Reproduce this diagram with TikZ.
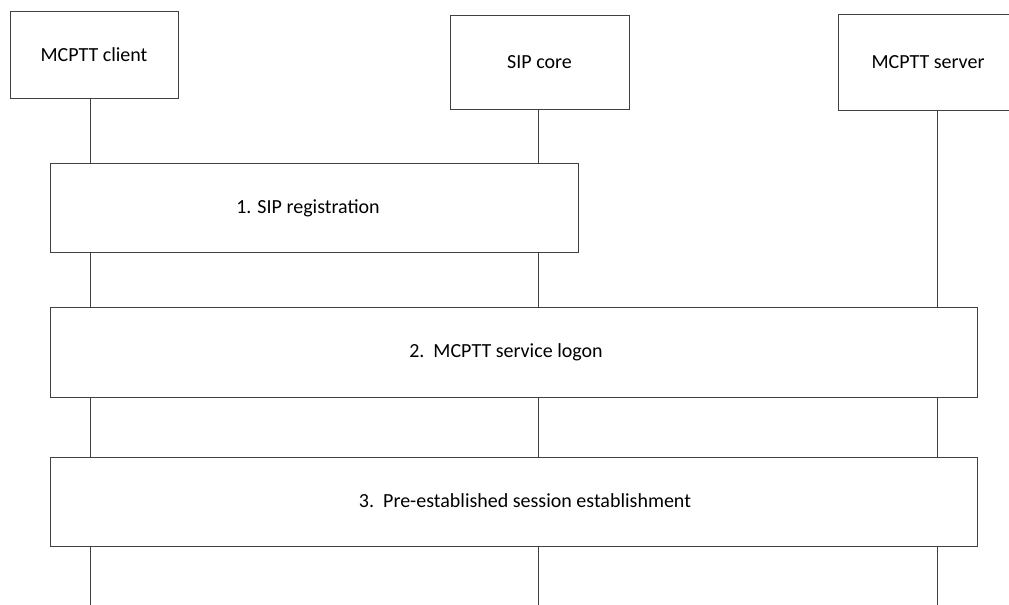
\documentclass[tikz,border=0pt]{standalone}
\usepackage{fontspec}
\setmainfont{Carlito}
\begin{document}
\begin{tikzpicture}[x=0.75pt,y=-0.75pt,
  ln/.style={draw=black!75,line width=0.7pt},
  ent/.style={ln,fill=white,rectangle,inner sep=0pt,font=\fontsize{15}{18}\selectfont},
  stepbox/.style={ln,fill=white,rectangle,inner sep=0pt},
  lbl/.style={inner sep=0pt,font=\fontsize{15}{18}\selectfont}]
\useasboundingbox (0,0) rectangle (1009,605);
% lifeline end points
\coordinate (cl-end) at (90,605);
\coordinate (sc-end) at (538,605);
\coordinate (sv-end) at (937,605);
% entity boxes
\node[ent,minimum width=168*0.75pt,minimum height=87*0.75pt] (client) at (94,54.5) {MCPTT client};
\node[ent,minimum width=179*0.75pt,minimum height=94*0.75pt] (sip) at (539.5,62) {SIP core};
\node[ent,minimum width=180*0.75pt,minimum height=96*0.75pt] (server) at (928,62) {MCPTT server};
% lifelines
\draw[ln] (cl-end |- client.south) -- (cl-end);
\draw[ln] (sc-end |- sip.south) -- (sc-end);
\draw[ln] (sv-end |- server.south) -- (sv-end);
% step boxes
\node[stepbox,minimum width=528*0.75pt,minimum height=89*0.75pt] (s1) at (314,207.5) {};
\node[stepbox,minimum width=927*0.75pt,minimum height=90*0.75pt] (s2) at (513.5,352) {};
\node[stepbox,minimum width=927*0.75pt,minimum height=89*0.75pt] (s3) at (513.5,501.5) {};
\node[lbl] (t1) at (308,208) {1. SIP registration};
\node[lbl] (t2) at (506,352) {2.\ \ MCPTT service logon};
\node[lbl] (t3) at (525,501) {3.\ \ Pre-established session establishment};
\end{tikzpicture}
\end{document}
